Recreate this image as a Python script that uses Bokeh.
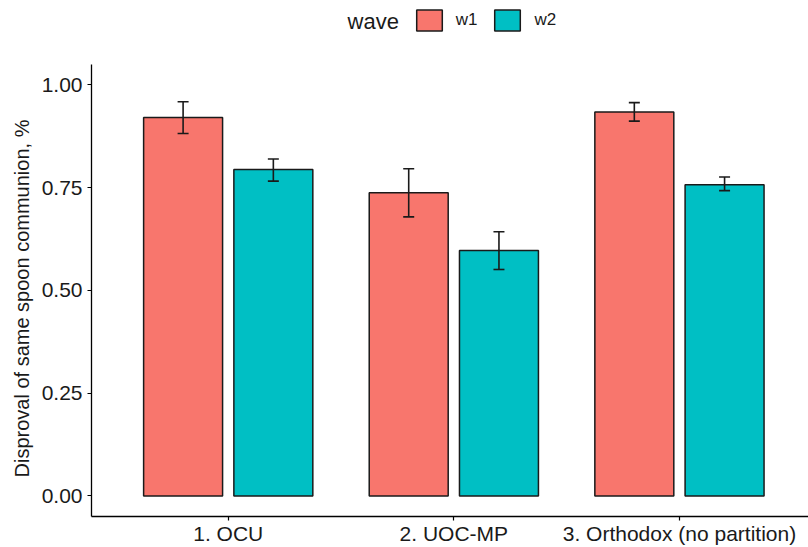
from bokeh.plotting import figure
from bokeh.models import (ColumnDataSource, FixedTicker, Range1d, Legend, LegendItem,
                          Whisker, TeeHead, Label, PrintfTickFormatter, Title)
from bokeh.transform import dodge
from bokeh.embed import file_html
from bokeh.resources import INLINE

# ---- data ----
categories = ["1. OCU", "2. UOC-MP", "3. Orthodox (no partition)"]
waves = ["w1", "w2"]
w1_mean = [0.921, 0.738, 0.934]
w1_lower = [0.882, 0.679, 0.912]
w1_upper = [0.959, 0.796, 0.957]
w2_mean = [0.794, 0.597, 0.757]
w2_lower = [0.766, 0.551, 0.743]
w2_upper = [0.820, 0.643, 0.776]
y_ticks = [0.0, 0.25, 0.5, 0.75, 1.0]
y_title = "Disproval of same spoon communion, %"
legend_title = "wave"

FONT = "Liberation Sans"
TXT = "#1a1a1a"
colors = {"w1": "#F8766D", "w2": "#00BFC4"}

cat_pos = list(range(1, len(categories) + 1))

p = figure(width=808, height=547, output_backend="svg", toolbar_location=None,
           x_range=Range1d(0.394, 3.572), y_range=Range1d(-0.05, 1.2055),
           min_border_left=91, min_border_right=0, min_border_top=0, min_border_bottom=30)
p.outline_line_color = None
p.xgrid.visible = False
p.ygrid.visible = False
p.background_fill_color = "white"

bar_w = 0.35
offsets = {"w1": -0.2, "w2": 0.2}
series = {"w1": (w1_mean, w1_lower, w1_upper), "w2": (w2_mean, w2_lower, w2_upper)}
items = []
for wv in waves:
    m, lo, hi = series[wv]
    src = ColumnDataSource(dict(x=cat_pos, top=m, lower=lo, upper=hi))
    r = p.vbar(x=dodge("x", offsets[wv]), top="top", bottom=0, width=bar_w, source=src,
               fill_color=colors[wv], line_color="#1a1a1a", line_width=1.5)
    items.append(LegendItem(label=wv, renderers=[r]))
    wh = Whisker(base=dodge("x", offsets[wv]), lower="lower", upper="upper", source=src,
                 level="overlay", line_color="#1a1a1a", line_width=1.6,
                 upper_head=TeeHead(size=11, line_color="#1a1a1a", line_width=1.6),
                 lower_head=TeeHead(size=11, line_color="#1a1a1a", line_width=1.6))
    p.add_layout(wh)

# axes
for ax in (p.xaxis[0], p.yaxis[0]):
    ax.axis_line_color = "black"
    ax.axis_line_width = 1.3
    ax.major_tick_line_color = "black"
    ax.major_tick_line_width = 1.2
    ax.major_tick_in = 0
    ax.major_tick_out = 4
    ax.minor_tick_line_color = None
    ax.major_label_text_font = FONT
    ax.major_label_text_font_size = "21px"
    ax.major_label_text_color = TXT

p.xaxis.ticker = FixedTicker(ticks=cat_pos)
p.xaxis.major_label_overrides = {i: c for i, c in zip(cat_pos, categories)}
p.xaxis.major_label_standoff = 1

p.yaxis.ticker = FixedTicker(ticks=y_ticks)
p.yaxis.formatter = PrintfTickFormatter(format="%.2f")
p.yaxis.major_label_standoff = 5
p.yaxis.bounds = (-0.05, 1.05)

ytitle = Title(text=y_title, align="left", offset=39, standoff=12,
               text_font=FONT, text_font_size="20px", text_font_style="normal",
               text_color=TXT)
p.add_layout(ytitle, "left")

legend = Legend(items=items, orientation="horizontal", location=(321.7, 483),
                glyph_width=32, glyph_height=26, label_standoff=11, spacing=14,
                padding=0, margin=0, border_line_color=None, background_fill_alpha=0,
                label_text_font=FONT, label_text_font_size="17px", label_text_color=TXT)
p.add_layout(legend, "center")

p.add_layout(Label(x=1.529, y=1.1544, text=legend_title, text_font=FONT,
                   text_font_size="22px", text_color=TXT, text_baseline="middle",
                   text_align="left"))

open("out.html", "w").write(file_html(p, INLINE))
